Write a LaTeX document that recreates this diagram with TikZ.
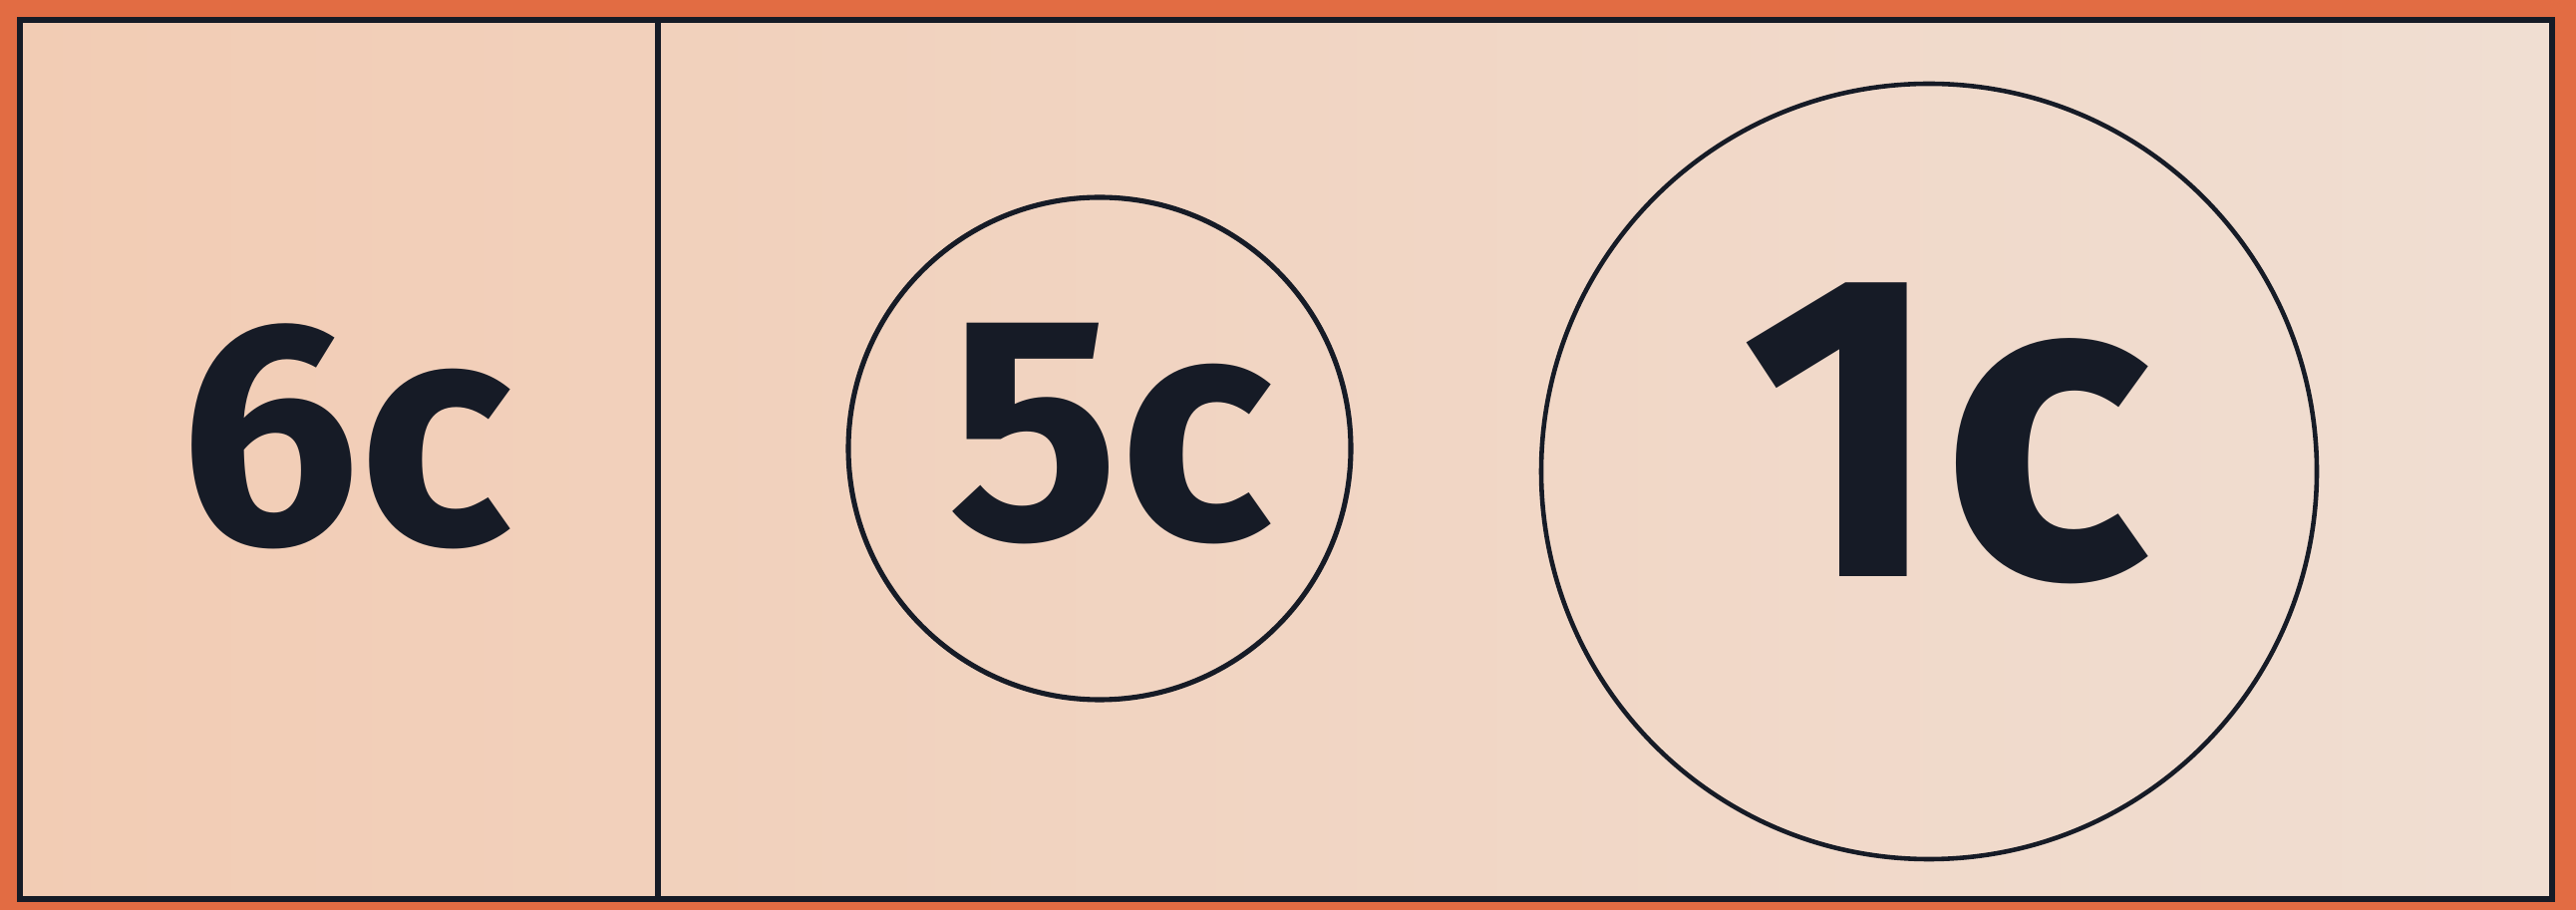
\documentclass[tikz,border=0pt]{standalone}
\usepackage{fontspec}
\setmainfont{Fira Sans}
\definecolor{StampOrange}{HTML}{E26C43}
\definecolor{StampPaperL}{HTML}{F2CCB4}
\definecolor{StampPaperR}{HTML}{F0DED2}
\definecolor{StampInk}{HTML}{161B26}
\usetikzlibrary{positioning}
\begin{document}
\begin{tikzpicture}[x=0.01cm, y=-0.01cm, line join=miter,
    value/.style={text=StampInk, inner sep=0pt, font=\bfseries\fontsize{91}{91}\selectfont},
    bigvalue/.style={value, font=\bfseries\fontsize{124}{124}\selectfont}]
      \fill[StampOrange] (0,0) rectangle (2584,913);
      \useasboundingbox (0,0) rectangle (2584,913);
      \shade[left color=StampPaperL, right color=StampPaperR] (20,20) rectangle (2560,902);
      \draw[StampInk, line width=1.8pt] (20,20) rectangle (2560,902);
      \draw[StampInk, line width=1.7pt] (660,20) -- (660,902);
      % rings
      \draw[StampInk, line width=1.45pt] (1103,450) circle[radius=252];
      \draw[StampInk, line width=1.3pt] (1935,473) circle[radius=389];
      % values
      \node[value] (six) at (347,438) {6c};
      \node[value] (five) at (1114,435) {5c};
      \node[bigvalue] (one) at (1952,435) {1c};
    \end{tikzpicture}
\end{document}
